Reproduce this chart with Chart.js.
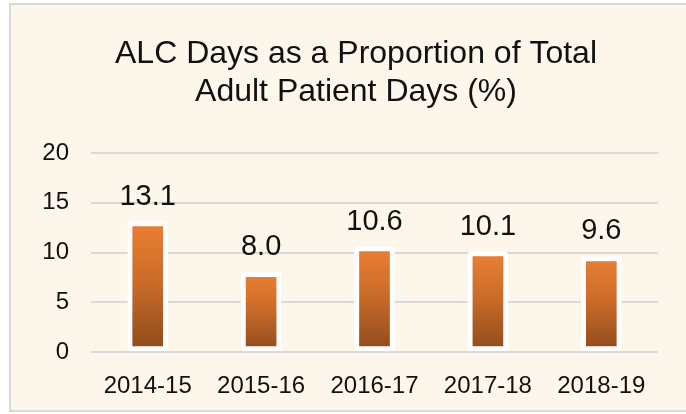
<!DOCTYPE html>
<html>
<head>
<meta charset="utf-8">
<script src="https://cdn.jsdelivr.net/npm/chart.js@4"></script>
<style>
  body { margin: 0; background: #fff; }
</style>
</head>
<body>
<canvas id="canva1" width="686" height="414"></canvas>
<script>
// values
var categories = ['2014-15', '2015-16', '2016-17', '2017-18', '2018-19'];
var alcShare = [13.1, 8.0, 10.6, 10.1, 9.6];
var yTicks = [0, 5, 10, 15, 20];
var titleLines = ['ALC Days as a Proportion of Total', 'Adult Patient Days (%)'];

var FONT = "'Liberation Sans', Arial, sans-serif";

// cream panel with thin grey frame behind everything, title on top of it
var panelBg = {
    id: 'panelBg',
    beforeDraw: function (chart) {
        var c = chart.ctx;
        c.save();
        c.fillStyle = '#ffffff';
        c.fillRect(0, 0, chart.width, chart.height);
        c.fillStyle = '#FDF6EA';
        c.fillRect(10, 4, chart.width, 407);
        c.strokeStyle = '#D9D9D9';
        c.lineWidth = 2;
        c.strokeRect(10, 4, chart.width + 10, 407);

        // title (the panel runs past the right edge, so it is centred a bit right)
        c.font = '32px ' + FONT;
        c.fillStyle = '#111';
        c.textAlign = 'center';
        c.textBaseline = 'alphabetic';
        c.fillText(titleLines[0], 356, 63);
        c.fillText(titleLines[1], 356, 101);
        c.restore();
    }
};

// value labels above each bar
var valueLabels = {
    id: 'valueLabels',
    afterDatasetsDraw: function (chart) {
        var c = chart.ctx;
        var meta = chart.getDatasetMeta(0);
        c.save();
        c.font = '29px ' + FONT;
        c.fillStyle = '#111';
        c.textAlign = 'center';
        c.textBaseline = 'alphabetic';
        meta.data.forEach(function (bar, i) {
            c.fillText(alcShare[i].toFixed(1), bar.x, bar.y - 17);
        });
        c.restore();
    }
};

function barGradient(context) {
    var chart = context.chart;
    if (!chart.chartArea || context.type !== 'data') return '#D8763A';
    var y = chart.scales.y;
    var top = y.getPixelForValue(context.raw);
    var base = y.getPixelForValue(0);
    var g = chart.ctx.createLinearGradient(0, top, 0, base);
    g.addColorStop(0, '#EB7F33');
    g.addColorStop(0.45, '#CB6C2A');
    g.addColorStop(1, '#8E4A1B');
    return g;
}

var ctx = document.getElementById('canva1').getContext('2d');
var myChart = new Chart(ctx, {
    type: 'bar',
    data: {
        labels: categories,
        datasets: [{
            label: 'ALC days (%)',
            data: alcShare,
            backgroundColor: barGradient,
            borderColor: '#ffffff',
            borderWidth: 5,
            borderSkipped: false,
            borderRadius: 4,
            barThickness: 40
        }]
    },
    options: {
        responsive: false,
        animation: false,
        layout: {
            padding: { left: 20, right: 28, top: 153, bottom: 0 }
        },
        plugins: {
            legend: { display: false },
            tooltip: { enabled: false },
            title: { display: false }
        },
        scales: {
            x: {
                grid: { display: false },
                border: { display: false },
                ticks: {
                    color: '#111',
                    font: { family: FONT, size: 24 },
                    padding: 12,
                    maxRotation: 0
                },
                afterFit: function (scale) { scale.height = 62; }
            },
            y: {
                min: 0,
                max: 20,
                afterBuildTicks: function (scale) {
                    scale.ticks = yTicks.map(function (v) { return { value: v }; });
                },
                grid: { color: '#D9D9D9', lineWidth: 2, drawTicks: false },
                border: { display: false },
                ticks: {
                    color: '#111',
                    font: { family: FONT, size: 24 },
                    padding: 22
                },
                afterFit: function (scale) { scale.width = 71; }
            }
        }
    },
    plugins: [panelBg, valueLabels]
});
</script>
</body>
</html>
